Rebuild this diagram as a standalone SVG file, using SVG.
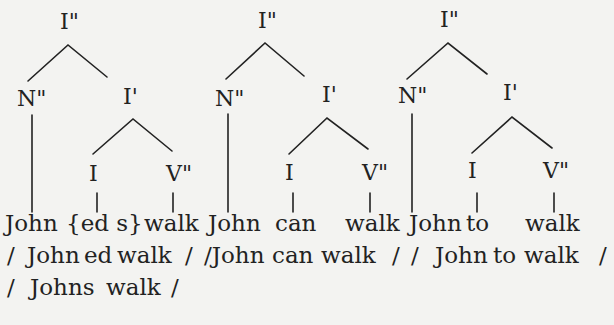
<svg xmlns="http://www.w3.org/2000/svg" width="614" height="325" viewBox="0 0 614 325">
<style>
.lbl{font-family:"DejaVu Serif","Liberation Serif","Noto Serif",serif;font-size:22px;fill:#222}
.txt{font-family:"DejaVu Serif","Liberation Serif","Noto Serif",serif;font-size:23px;fill:#222}
.edge{stroke:#222;stroke-width:1.6;fill:none;stroke-linecap:round}
</style>
<rect width="614" height="325" fill="#f3f3f1"/>
<g id="connectors">
<path class="edge" d="M28,81 L68,45 L107,77"/>
<path class="edge" d="M93,154 L133,119 L172,151"/>
<path class="edge" d="M32,115 V212 M97,193 V212 M173,193 V212"/>
<path class="edge" d="M226,79 L265,43 L304,76"/>
<path class="edge" d="M289,154 L327,118 L368,149"/>
<path class="edge" d="M228,114 V212 M293,193 V212 M370,193 V212"/>
<path class="edge" d="M407,79 L448,43 L487,74"/>
<path class="edge" d="M472,153 L512,117 L552,148"/>
<path class="edge" d="M412,114 V212 M477,193 V212 M554,193 V212"/>
</g>
<g id="t1-I2"><text class="lbl" x="60" y="29">I"</text></g>
<g id="t1-N2"><text class="lbl" x="17" y="106">N"</text></g>
<g id="t1-I1"><text class="lbl" x="123" y="104">I'</text></g>
<g id="t1-I"><text class="lbl" x="89" y="181">I</text></g>
<g id="t1-V2"><text class="lbl" x="166" y="181">V"</text></g>
<g id="t2-I2"><text class="lbl" x="258" y="28">I"</text></g>
<g id="t2-N2"><text class="lbl" x="215" y="106">N"</text></g>
<g id="t2-I1"><text class="lbl" x="322" y="102">I'</text></g>
<g id="t2-I"><text class="lbl" x="285" y="180">I</text></g>
<g id="t2-V2"><text class="lbl" x="362" y="180">V"</text></g>
<g id="t3-I2"><text class="lbl" x="440" y="27">I"</text></g>
<g id="t3-N2"><text class="lbl" x="398" y="103">N"</text></g>
<g id="t3-I1"><text class="lbl" x="503" y="100">I'</text></g>
<g id="t3-I"><text class="lbl" x="468" y="178">I</text></g>
<g id="t3-V2"><text class="lbl" x="543" y="178">V"</text></g>
<g id="row1"><text class="txt" y="231"><tspan x="5">John</tspan><tspan x="66">{ed s}</tspan><tspan x="144">walk</tspan><tspan x="208">John</tspan><tspan x="275">can</tspan><tspan x="345">walk</tspan><tspan x="409">John</tspan><tspan x="466">to</tspan><tspan x="525">walk</tspan></text></g>
<g id="row2"><text class="txt" y="263"><tspan x="7">/</tspan><tspan x="27">John</tspan><tspan x="84">ed</tspan><tspan x="117">walk</tspan><tspan x="185">/</tspan><tspan x="204">/John</tspan><tspan x="272">can</tspan><tspan x="321">walk</tspan><tspan x="392">/</tspan><tspan x="411">/</tspan><tspan x="435">John</tspan><tspan x="493">to</tspan><tspan x="524">walk</tspan><tspan x="599">/</tspan></text></g>
<g id="row3"><text class="txt" y="295"><tspan x="7">/</tspan><tspan x="30">Johns</tspan><tspan x="106">walk</tspan><tspan x="171">/</tspan></text></g>
</svg>
